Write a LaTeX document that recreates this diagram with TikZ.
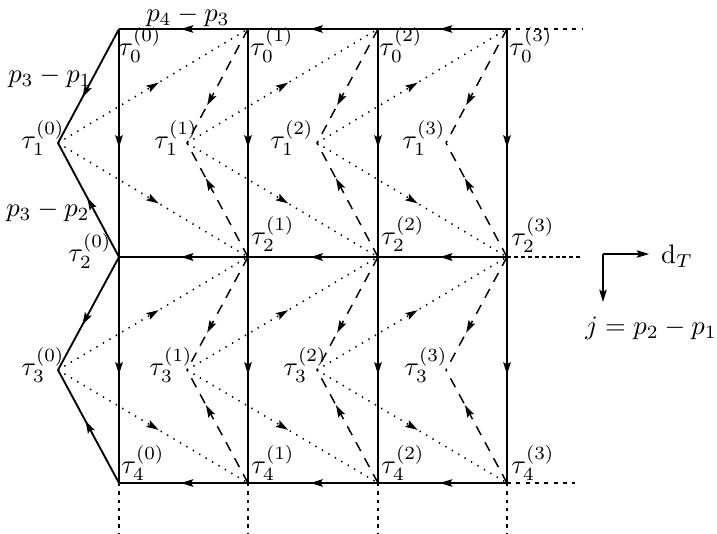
\documentclass[tikz,border=0pt]{standalone}
\usetikzlibrary{arrows.meta,decorations.markings}
\tikzset{
  tip/.tip={Stealth[length=4.6pt,width=2.8pt,inset=0.8pt]},
  midarrow/.style={postaction={decorate},decoration={markings,mark=at position #1 with {\arrow{tip}}}},
  midarrow/.default=0.52,
  solidln/.style={line width=0.7pt},
  thickln/.style={line width=1.1pt},
  dashln/.style={line width=0.55pt,dash pattern=on 3.8pt off 3pt},
  dotln/.style={line width=0.6pt,dash pattern=on 0.5pt off 2.3pt},
  extln/.style={line width=0.55pt,dash pattern=on 1.5pt off 2pt},
  extdense/.style={line width=0.55pt,dash pattern=on 1.5pt off 1.1pt},
  vdots/.style={line width=0.9pt,dash pattern=on 1.3pt off 1.8pt},
  lab/.style={inner sep=0pt}
}
\begin{document}
\begin{tikzpicture}[x=0.375pt,y=-0.375pt]
\useasboundingbox (0,0) rectangle (717,533);
\foreach \k/\x in {0/119,1/248,2/378,3/507} {
  \coordinate (T\k) at (\x,29);
  \coordinate (M\k) at (\x,257);
  \coordinate (B\k) at (\x,483);
  \coordinate (U\k) at (\x-61,143);
  \coordinate (L\k) at (\x-61,370);
  \coordinate (D\k) at (\x,533);
}
\coordinate (TE) at (582,29);
\coordinate (ME) at (582,257);
\coordinate (BE) at (575,483);
% dotted lines
\foreach \k/\n in {0/1,1/2,2/3} {
  \draw[dotln,midarrow=0.53] (U\k) -- (T\n);
  \draw[dotln,midarrow=0.53] (U\k) -- (M\n);
  \draw[dotln,midarrow=0.53] (L\k) -- (M\n);
  \draw[dotln,midarrow=0.53] (L\k) -- (B\n);
}
% dashed lines
\foreach \k in {1,2,3} {
  \draw[dashln,midarrow=0.67] (T\k) -- (U\k);
  \draw[dashln,midarrow=0.69] (M\k) -- (U\k);
  \draw[dashln,midarrow=0.67] (M\k) -- (L\k);
  \draw[dashln,midarrow=0.69] (B\k) -- (L\k);
}
% horizontal solid lines
\foreach \k/\n in {0/1,1/2,2/3} {
  \draw[solidln,midarrow] (T\n) -- (T\k);
  \draw[thickln,midarrow] (M\n) -- (M\k);
  \draw[solidln,midarrow] (B\n) -- (B\k);
}
% vertical solid lines
\foreach \k in {0,1,2,3} {
  \draw[solidln,midarrow] (T\k) -- (M\k);
  \draw[solidln,midarrow] (M\k) -- (B\k);
  \draw[vdots] (B\k) -- (D\k);
}
% left edges
\draw[solidln,midarrow=0.6] (T0) -- (U0);
\draw[solidln,midarrow=0.52] (M0) -- (U0);
\draw[solidln,midarrow=0.6] (M0) -- (L0);
\draw[solidln,midarrow=0.55] (B0) -- (L0);
% extensions
\draw[extln] (T3) -- (TE);
\draw[extdense] (M3) -- (ME);
\draw[extln] (B3) -- (BE);
% labels
\node[lab] (p43) at (188,16) {$p_4-p_3$};
\node[lab] (p31) at (50,77) {$p_3-p_1$};
\node[lab] (p32) at (48,211) {$p_3-p_2$};
\node[lab] (t00) at (140,45) {$\tau_0^{(0)}$};
\node[lab] (t01) at (272,45) {$\tau_0^{(1)}$};
\node[lab] (t02) at (401,45) {$\tau_0^{(2)}$};
\node[lab] (t03) at (531,45) {$\tau_0^{(3)}$};
\node[lab] (t10) at (43,138) {$\tau_1^{(0)}$};
\node[lab] (t11) at (176,138) {$\tau_1^{(1)}$};
\node[lab] (t12) at (292,138) {$\tau_1^{(2)}$};
\node[lab] (t13) at (424,138) {$\tau_1^{(3)}$};
\node[lab] (t20) at (90,251) {$\tau_2^{(0)}$};
\node[lab] (t21) at (273,234) {$\tau_2^{(1)}$};
\node[lab] (t22) at (403,234) {$\tau_2^{(2)}$};
\node[lab] (t23) at (533,235) {$\tau_2^{(3)}$};
\node[lab] (t30) at (43,365) {$\tau_3^{(0)}$};
\node[lab] (t31) at (171,365) {$\tau_3^{(1)}$};
\node[lab] (t32) at (305,365) {$\tau_3^{(2)}$};
\node[lab] (t33) at (426,365) {$\tau_3^{(3)}$};
\node[lab] (t40) at (143,463) {$\tau_4^{(0)}$};
\node[lab] (t41) at (273,463) {$\tau_4^{(1)}$};
\node[lab] (t42) at (403,463) {$\tau_4^{(2)}$};
\node[lab] (t43) at (533,463) {$\tau_4^{(3)}$};
% legend
\coordinate (O) at (603,254);
\coordinate (DX) at (649,254);
\coordinate (DY) at (603,302);
\draw[line width=0.55pt,-{tip}] (O) -- (DX);
\draw[line width=0.55pt,-{tip}] (O) -- (DY);
\node[lab] (dT) at (677,256) {$\mathrm{d}_T$};
\node[lab] (jl) at (651,328) {$j=p_2-p_1$};
\end{tikzpicture}
\end{document}
